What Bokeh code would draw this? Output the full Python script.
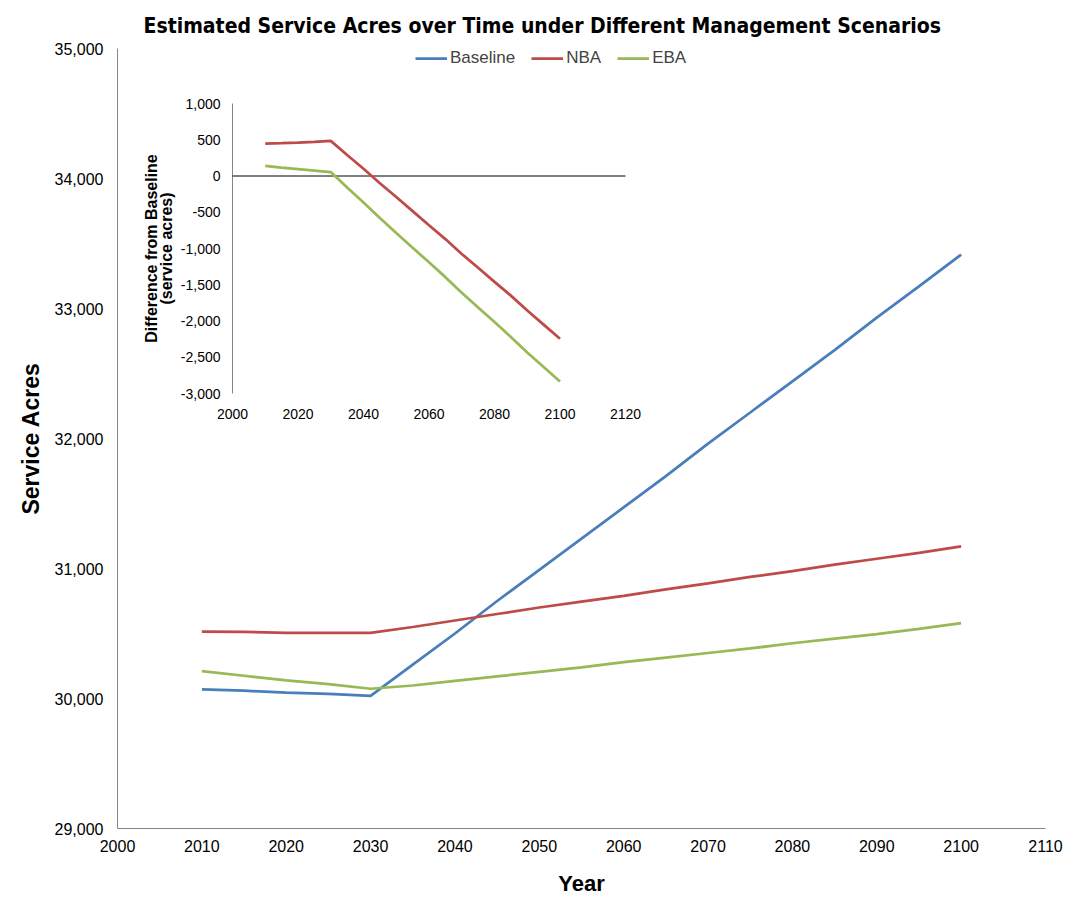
from bokeh.plotting import figure
from bokeh.models import (Range1d, NumeralTickFormatter, Legend, LegendItem, FixedTicker)
from bokeh.core.properties import value
from bokeh.embed import file_html
from bokeh.resources import INLINE
import math

# ---------------- data ----------------
years = [2010, 2015, 2020, 2025, 2030, 2035, 2040, 2045, 2050, 2055,
         2060, 2065, 2070, 2075, 2080, 2085, 2090, 2095, 2100]
baseline = [30070, 30060, 30045, 30035, 30020, 30260, 30500, 30750, 30990, 31230,
            31470, 31710, 31960, 32200, 32440, 32680, 32930, 33170, 33415]
nba = [30515, 30512, 30505, 30505, 30505, 30550, 30600, 30650, 30700, 30745,
       30790, 30840, 30885, 30935, 30980, 31030, 31075, 31120, 31170]
eba = [30210, 30175, 30140, 30110, 30075, 30100, 30135, 30170, 30205, 30240,
       30280, 30315, 30350, 30385, 30425, 30460, 30495, 30535, 30580]

series_names = ["Baseline", "NBA", "EBA"]
series_colors = ["#4A7EBB", "#BE4B48", "#98B954"]

main_x_ticks = [2000, 2010, 2020, 2030, 2040, 2050, 2060, 2070, 2080, 2090, 2100, 2110]
main_y_ticks = [29000, 30000, 31000, 32000, 33000, 34000, 35000]

inset_x_ticks = [2000, 2020, 2040, 2060, 2080, 2100, 2120]
inset_y_ticks = [1000, 500, 0, -500, -1000, -1500, -2000, -2500, -3000]
inset_y_labels = ["1,000", "500", "0", "-500", "-1,000", "-1,500", "-2,000", "-2,500", "-3,000"]
inset_x_labels = [str(v) for v in inset_x_ticks]

nba_diff = [n - b for n, b in zip(nba, baseline)]
eba_diff = [e - b for e, b in zip(eba, baseline)]

# ---------------- layout geometry ----------------
W, H = 1091, 898
MB_L, MB_R, MB_T, MB_B = 117, 46, 48, 70
FR_L, FR_R, FR_T, FR_B = MB_L, W - MB_R, MB_T, H - MB_B
# inset box (pixel coords)
IX0, IX1 = 232, 625      # x pixels of first/last inset x tick
IYT, IYB = 103, 393      # y pixels of top/bottom inset y tick

FONT = "Liberation Sans"
TITLE_FONT = "DejaVu Sans Condensed, Liberation Sans Narrow, Liberation Sans"

p = figure(width=W, height=H, output_backend="svg", toolbar_location=None,
           x_range=Range1d(main_x_ticks[0], main_x_ticks[-1]),
           y_range=Range1d(main_y_ticks[0], main_y_ticks[-1]),
           min_border_left=MB_L, min_border_right=MB_R,
           min_border_top=MB_T, min_border_bottom=MB_B,
           outline_line_color=None)
p.grid.visible = False
p.background_fill_color = "white"
p.border_fill_color = "white"

# title
p.title.text = "Estimated Service Acres over Time under Different Management Scenarios"
p.title.text_font = TITLE_FONT
p.title.text_font_style = "bold"
p.title.text_font_size = "21px"
p.title.text_line_height = 1.0
p.title.text_color = "black"
p.title.align = "left"
p.title.offset = 143 - MB_L
p.title.standoff = 21

# axes
for ax in (p.xaxis[0], p.yaxis[0]):
    ax.axis_line_color = "#868686"
    ax.axis_line_width = 1
    ax.major_tick_out = 0
    ax.major_tick_in = 0
    ax.minor_tick_out = 0
    ax.minor_tick_in = 0
    ax.major_label_text_font = FONT
    ax.major_label_text_font_size = "16px"
    ax.major_label_text_color = "black"
    ax.axis_label_text_font = FONT
    ax.axis_label_text_font_style = "bold"
    ax.axis_label_text_color = "black"

p.xaxis[0].ticker = FixedTicker(ticks=main_x_ticks)
p.yaxis[0].ticker = FixedTicker(ticks=main_y_ticks)
p.yaxis[0].formatter = NumeralTickFormatter(format="0,0")
p.xaxis[0].formatter = NumeralTickFormatter(format="0")
p.xaxis[0].axis_label = "Year"
p.yaxis[0].axis_label = "Service Acres"
p.xaxis[0].axis_label_text_font_size = "22px"
p.yaxis[0].axis_label_text_font_size = "23px"
p.xaxis[0].major_label_standoff = 11
p.yaxis[0].major_label_standoff = 14
p.xaxis[0].axis_label_standoff = 16
p.yaxis[0].axis_label_standoff = 8

# main lines
renderers = []
for vals, c in zip([baseline, nba, eba], series_colors):
    r = p.line(years, vals, line_color=c, line_width=2.75)
    renderers.append(r)

# legend location is the bottom-left corner, in pixels from the frame's bottom-left
legend = Legend(items=[LegendItem(label=n, renderers=[r]) for n, r in zip(series_names, renderers)],
                orientation="horizontal", location=(415 - FR_L, FR_B - 68),
                border_line_color=None, background_fill_alpha=0,
                label_text_font=FONT, label_text_font_size="17px",
                glyph_width=32, glyph_height=18, spacing=16, padding=0, margin=0,
                label_standoff=3)
p.add_layout(legend, "center")

# ---------------- inset (drawn in extra ranges) ----------------
sx = (inset_x_ticks[-1] - inset_x_ticks[0]) / (IX1 - IX0)
ix_start = inset_x_ticks[0] - (IX0 - FR_L) * sx
ix_end = inset_x_ticks[-1] + (FR_R - IX1) * sx
sy = (inset_y_ticks[0] - inset_y_ticks[-1]) / (IYB - IYT)
iy_end = inset_y_ticks[0] + (IYT - FR_T) * sy
iy_start = inset_y_ticks[-1] - (FR_B - IYB) * sy
p.extra_x_ranges = {"ix": Range1d(ix_start, ix_end)}
p.extra_y_ranges = {"iy": Range1d(iy_start, iy_end)}
kw = dict(x_range_name="ix", y_range_name="iy")

# inset y axis line
p.segment(x0=[inset_x_ticks[0]], y0=[inset_y_ticks[-1]], x1=[inset_x_ticks[0]], y1=[inset_y_ticks[0]],
          line_color="#868686", line_width=1, **kw)
# inset zero line (horizontal axis)
p.segment(x0=[inset_x_ticks[0]], y0=[0], x1=[inset_x_ticks[-1]], y1=[0],
          line_color="black", line_width=1, **kw)

# inset lines
p.line(years, nba_diff, line_color=series_colors[1], line_width=2.75, **kw)
p.line(years, eba_diff, line_color=series_colors[2], line_width=2.75, **kw)

# inset tick labels
p.text(x=[inset_x_ticks[0]] * len(inset_y_ticks), y=inset_y_ticks, text=inset_y_labels,
       x_offset=-12, text_align="right", text_baseline="middle",
       text_font=value(FONT), text_font_size="14px", text_color="black", **kw)
p.text(x=inset_x_ticks, y=[inset_y_ticks[-1]] * len(inset_x_ticks), text=inset_x_labels,
       y_offset=20, text_align="center", text_baseline="middle",
       text_font=value(FONT), text_font_size="14px", text_color="black", **kw)

# inset axis title (two lines)
mid_y = (inset_y_ticks[0] + inset_y_ticks[-1]) / 2
p.text(x=[inset_x_ticks[0]], y=[mid_y], text=["Difference from Baseline"],
       x_offset=-81, angle=math.pi / 2, text_align="center", text_baseline="middle",
       text_font=value(FONT), text_font_style="bold", text_font_size="16px", text_color="black", **kw)
p.text(x=[inset_x_ticks[0]], y=[mid_y], text=["(service acres)"],
       x_offset=-66, angle=math.pi / 2, text_align="center", text_baseline="middle",
       text_font=value(FONT), text_font_style="bold", text_font_size="16px", text_color="black", **kw)

open("out.html", "w").write(file_html(p, INLINE))
